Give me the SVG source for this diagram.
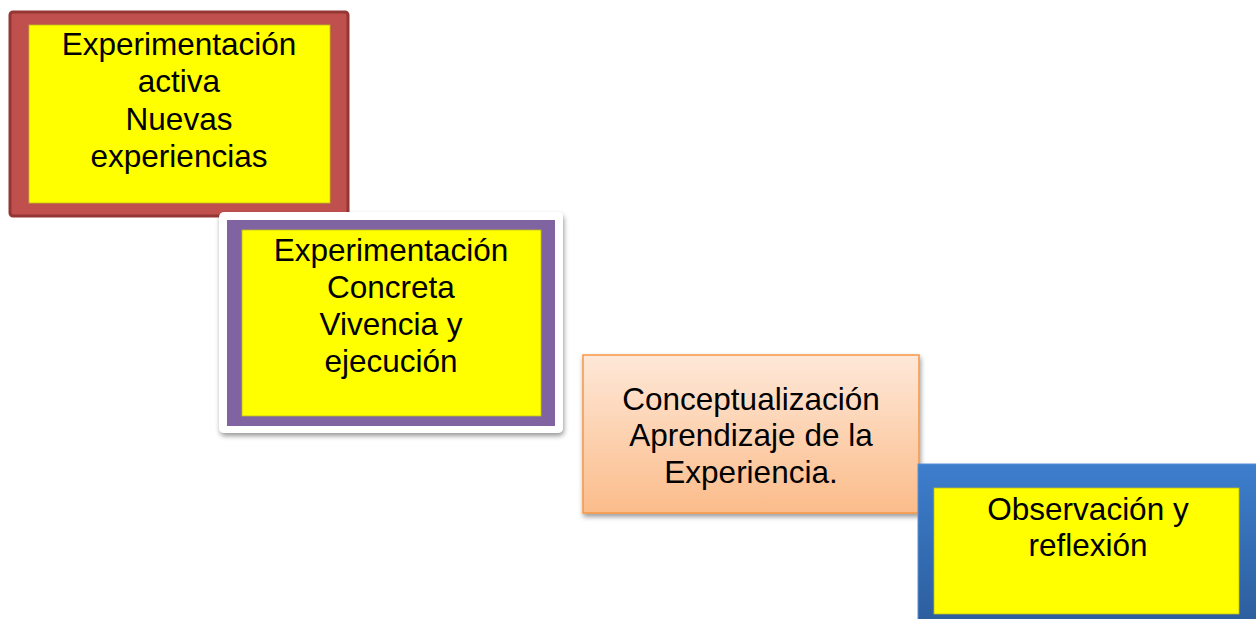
<svg xmlns="http://www.w3.org/2000/svg" width="1256" height="619" viewBox="0 0 1256 619">
<defs>
<linearGradient id="gOrange" x1="0" y1="0" x2="0" y2="1">
<stop offset="0" stop-color="#fee8d8"/>
<stop offset="1" stop-color="#fbbc8a"/>
</linearGradient>
<linearGradient id="gBlue" x1="0" y1="0" x2="0" y2="1">
<stop offset="0" stop-color="#3d7ecd"/>
<stop offset="1" stop-color="#2c5d9c"/>
</linearGradient>
<filter id="shadow" x="-10%" y="-10%" width="125%" height="130%">
<feDropShadow dx="1" dy="3" stdDeviation="2.5" flood-color="#000" flood-opacity="0.4"/>
</filter>
</defs>
<style>
text{font-family:"Liberation Sans",Arial,sans-serif;font-size:31.5px;fill:#000;text-anchor:middle}
.yellow{fill:#ffff00;stroke:#bdbd20;stroke-width:0.8}
</style>
<rect width="1256" height="619" fill="#ffffff"/>
<g id="connectors"></g>
<g id="node1">
<rect x="10" y="12" width="338" height="204" rx="3" fill="#c0504d" stroke="#943634" stroke-width="3"/>
<rect class="yellow" x="29" y="25" width="301" height="178"/>
<text x="179" y="55">Experimentación</text>
<text x="179" y="92">activa</text>
<text x="179" y="130">Nuevas</text>
<text x="179" y="167">experiencias</text>
</g>
<g id="node2">
<rect x="219" y="212" width="344" height="221" rx="5" fill="#ffffff" filter="url(#shadow)"/>
<rect x="227" y="220" width="328" height="206" fill="#8064a2"/>
<rect class="yellow" x="242" y="230" width="299" height="186"/>
<text x="391" y="261">Experimentación</text>
<text x="391" y="298">Concreta</text>
<text x="391" y="335">Vivencia y</text>
<text x="391" y="372">ejecución</text>
</g>
<g id="node3">
<rect x="583" y="355" width="336" height="158" fill="url(#gOrange)" stroke="#f79646" stroke-width="1.5" filter="url(#shadow)"/>
<text x="751" y="410">Conceptualización</text>
<text x="751" y="446">Aprendizaje de la</text>
<text x="751" y="483">Experiencia.</text>
</g>
<g id="node4">
<rect x="918" y="464" width="345" height="165" fill="url(#gBlue)" stroke="#5b8fd6" stroke-width="1"/>
<rect class="yellow" x="934" y="488" width="305" height="126"/>
<text x="1088" y="520">Observación y</text>
<text x="1088" y="556">reflexión</text>
</g>
</svg>
